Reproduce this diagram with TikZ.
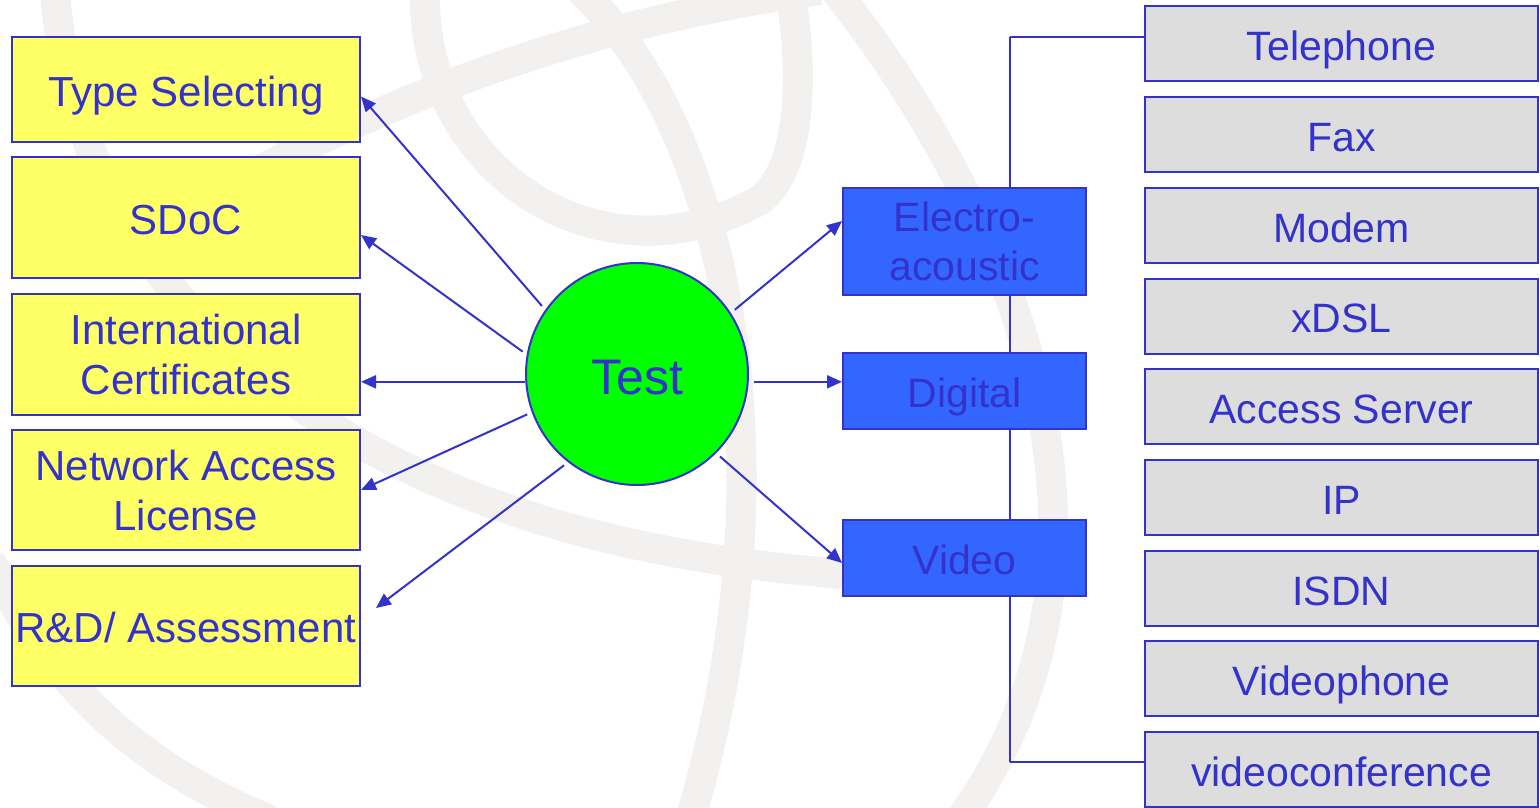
\documentclass[tikz,border=0pt]{standalone}
\usepackage{fontspec}
\setmainfont{Liberation Sans}
\usetikzlibrary{arrows.meta}
\definecolor{txt}{HTML}{3333CC}
\definecolor{yel}{HTML}{FFFF66}
\definecolor{blu}{HTML}{3366FF}
\definecolor{gry}{HTML}{DDDDDD}
\definecolor{wmk}{HTML}{F2F1EF}
\definecolor{grn}{HTML}{00FF00}
\tikzset{
  box/.style={draw=txt, line width=2pt, inner sep=0pt, align=center, text=txt},
  oneline/.style={text height=40pt, text depth=7pt},
  ybox/.style={box, fill=yel, minimum width=348pt, font=\fontsize{42}{50}\selectfont},
  bbox/.style={box, fill=blu, minimum width=243pt, minimum height=76pt, font=\fontsize{41}{49}\selectfont},
  gbox/.style={box, oneline, fill=gry, minimum width=393pt, minimum height=75pt, font=\fontsize{41}{49}\selectfont},
  conn/.style={draw=txt, line width=2pt},
  arr/.style={conn, -{Triangle[length=15pt,width=13pt]}, shorten <=5pt},
  wm/.style={draw=wmk, line width=30pt}
}
\begin{document}
\begin{tikzpicture}[x=1pt,y=-1pt]
\fill[white] (0,0) rectangle (1540,807);
\useasboundingbox (0,0) rectangle (1540,807);
% watermark globe
\begin{scope}
\clip (0,0) rectangle (1540,807);
\draw[wm] (55,-10) .. controls (75,280) and (320,540) .. (860,575);
\draw[wm] (-10,560) .. controls (60,700) and (150,770) .. (270,820);
\draw[wm] (180,215) .. controls (380,95) and (600,20) .. (820,-10);
\draw[wm] (425,-10) .. controls (420,170) and (600,290) .. (760,200) .. controls (800,170) and (805,80) .. (790,-10);
\draw[wm] (580,-10) .. controls (720,120) and (800,450) .. (690,820);
\draw[wm] (835,-10) .. controls (1000,200) and (1160,540) .. (960,820);
\end{scope}
% trunk of the tree on the right
\coordinate (trunkTop) at (1010,37);
\coordinate (trunkBot) at (1010,762);
\draw[conn] (trunkTop) -- (trunkBot);
% left boxes
\node[ybox, oneline, minimum height=105pt] (ts) at (186,89.5) {Type Selecting};
\node[ybox, oneline, minimum height=121pt] (sd) at (186,217.5) {SDoC};
\node[ybox, minimum height=121pt] (ic) at (186,354.5) {International\\Certificates};
\node[ybox, minimum height=120pt] (na) at (186,490) {Network Access\\License};
\node[ybox, oneline, minimum height=120pt] (rd) at (186,626) {R\&D/ Assessment};
% centre
\node[circle, draw=txt, line width=2pt, fill=grn, minimum size=222pt, inner sep=0pt, text=txt, text height=48pt, text depth=8pt, font=\fontsize{50}{60}\selectfont] (test) at (637,374) {Test};
% middle boxes
\node[bbox, minimum height=107pt] (ea) at (964.5,241.5) {Electro-\\acoustic};
\node[bbox, oneline] (dg) at (964.5,391) {Digital};
\node[bbox, oneline] (vd) at (964.5,558) {Video};
% right boxes
\node[gbox] (tel) at (1341.5,43.5) {Telephone};
\node[gbox] (fax) at (1341.5,134.5) {Fax};
\node[gbox] (mod) at (1341.5,225.5) {Modem};
\node[gbox] (dsl) at (1341.5,316) {xDSL};
\node[gbox] (acc) at (1341.5,406.5) {Access Server};
\node[gbox] (ip) at (1341.5,497.5) {IP};
\node[gbox] (isdn) at (1341.5,588.5) {ISDN};
\node[gbox] (vph) at (1341.5,678.5) {Videophone};
\node[gbox] (vc) at (1341.5,769.5) {videoconference};
\draw[conn] ([yshift=6.5pt]tel.west) -- (trunkTop);
\draw[conn] ([yshift=7.5pt]vc.west) -- (trunkBot);
% arrows
\draw[arr] (test.145) -- ([yshift=-7pt]ts.east);
\draw[arr] (test.170) -- ([yshift=-17.5pt]sd.east);
\draw[arr, shorten <=0pt] (test.184.6) -- (test.184.6 -| ic.east);
\draw[arr] (test.200) -- (na.east);
\draw[arr] (test.232) -- ([xshift=15pt,yshift=18pt]rd.east);
\draw[arr] (test.33.6) -- ([yshift=20.5pt]ea.west);
\draw[arr] (test.-4.4) -- (test.-4.4 -| dg.west);
\draw[arr] (test.-45) -- ([yshift=-5pt]vd.west);
\end{tikzpicture}
\end{document}
